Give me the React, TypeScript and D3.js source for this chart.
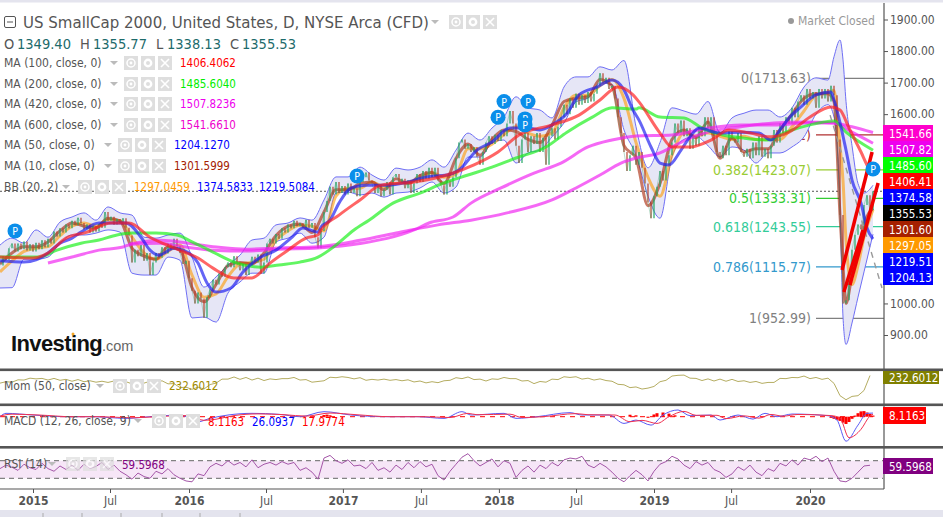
import { useEffect, useRef } from 'react';
import * as d3 from 'd3';

type Pt = [number, number];

// weekly closes, one value per bar
const closes = [
  1120, 1150, 1138, 1175, 1190, 1165, 1190, 1172, 1196, 1168, 1188, 1165, 1192, 1172, 1200, 1178, 1205, 1190, 1228, 1212,
  1238, 1225, 1250, 1238, 1262, 1248, 1272, 1255, 1235, 1250, 1225, 1245, 1228, 1252, 1240, 1290, 1262, 1275, 1250, 1268,
  1255, 1270, 1240, 1215, 1130, 1170, 1150, 1185, 1135, 1160, 1090, 1130, 1160, 1145, 1178, 1158, 1190, 1170, 1205, 1182,
  1160, 1125, 1135, 1080, 1040, 1000, 1035, 1015, 955, 1020, 1045, 1075, 1060, 1095, 1085, 1115, 1130, 1115, 1150, 1130,
  1105, 1125, 1090, 1120, 1148, 1130, 1155, 1095, 1130, 1190, 1205, 1190, 1220, 1205, 1238, 1225, 1250, 1238, 1262, 1245,
  1255, 1240, 1265, 1240, 1255, 1210, 1175, 1230, 1290, 1325, 1370, 1345, 1385, 1350, 1372, 1345, 1380, 1350, 1365, 1340,
  1385, 1400, 1415, 1390, 1380, 1350, 1375, 1340, 1360, 1385, 1345, 1400, 1410, 1385, 1395, 1365, 1390, 1350, 1380, 1410,
  1385, 1420, 1395, 1430, 1400, 1430, 1390, 1375, 1345, 1390, 1370, 1400, 1460, 1510, 1520, 1490, 1505, 1480, 1495, 1465,
  1440, 1480, 1510, 1530, 1505, 1535, 1515, 1550, 1530, 1570, 1610, 1570, 1500, 1445, 1520, 1540, 1480, 1530, 1505, 1540,
  1480, 1525, 1440, 1530, 1555, 1520, 1560, 1590, 1630, 1600, 1650, 1620, 1665, 1630, 1660, 1635, 1670, 1640, 1665, 1690,
  1730, 1700, 1715, 1680, 1690, 1650, 1590, 1540, 1480, 1420, 1470, 1500, 1440, 1480, 1430, 1380, 1320, 1270, 1340, 1370,
  1420, 1390, 1440, 1470, 1510, 1570, 1540, 1580, 1530, 1555, 1490, 1530, 1500, 1560, 1530, 1590, 1555, 1590, 1530, 1480,
  1460, 1500, 1470, 1545, 1520, 1510, 1540, 1480, 1465, 1490, 1460, 1510, 1470, 1530, 1465, 1490, 1460, 1500, 1550, 1510,
  1570, 1540, 1590, 1570, 1620, 1590, 1640, 1660, 1630, 1680, 1650, 1670, 1620, 1680, 1650, 1680, 1640, 1690, 1660, 1520,
  1280, 1000, 1010, 1075, 1170, 1218, 1250, 1235, 1312, 1343, 1296, 1355.53,
];

const bbWeeks = [...d3.range(0, 280, 4), 278, 280, 281, 282, 284, 286, 288, 291];
const bbUpper = [
  1185, 1207, 1191, 1233, 1210, 1258, 1274, 1287, 1264, 1306, 1287, 1280, 1210, 1207, 1217, 1223, 1147, 1052, 1084, 1122,
  1153, 1201, 1207, 1249, 1255, 1271, 1264, 1328, 1401, 1401, 1432, 1407, 1391, 1429, 1423, 1432, 1455, 1432, 1486, 1540,
  1518, 1556, 1591, 1655, 1620, 1613, 1588, 1686, 1718, 1718, 1750, 1740, 1770, 1560, 1430, 1510, 1620, 1610, 1600, 1640,
  1540, 1588, 1603, 1613, 1613, 1591, 1620, 1686, 1715, 1708, 1782, 1835, 1772, 1640, 1500, 1380, 1350, 1374.58,
];
const bbLower = [
  1049, 1050, 1140, 1140, 1147, 1191, 1217, 1217, 1223, 1233, 1226, 1096, 1090, 1090, 1147, 1137, 954, 957, 941, 1033,
  1068, 1096, 1096, 1195, 1207, 1223, 1191, 1210, 1350, 1353, 1344, 1350, 1337, 1350, 1353, 1366, 1385, 1350, 1369, 1464,
  1464, 1508, 1518, 1445, 1477, 1486, 1528, 1572, 1639, 1651, 1699, 1693, 1550, 1470, 1340, 1270, 1465, 1520, 1530, 1500,
  1465, 1496, 1486, 1445, 1477, 1477, 1496, 1528, 1600, 1630, 1591, 1300, 957, 870, 938, 1020, 1100, 1219.51,
];
const bbMiddle = [
  1100, 1135, 1165, 1175, 1180, 1215, 1245, 1255, 1245, 1265, 1262, 1210, 1160, 1140, 1165, 1185, 1090, 1020, 1030, 1085,
  1125, 1130, 1140, 1200, 1230, 1248, 1245, 1230, 1340, 1365, 1365, 1385, 1370, 1380, 1385, 1395, 1415, 1400, 1410, 1490,
  1490, 1505, 1535, 1560, 1540, 1530, 1540, 1620, 1660, 1660, 1690, 1710, 1650, 1510, 1400, 1340, 1470, 1540, 1530, 1540,
  1530, 1520, 1530, 1520, 1520, 1520, 1560, 1610, 1660, 1670, 1675, 1500, 1390, 1200, 1060, 1120, 1210, 1297.05,
];
const ma10 = [
  1125, 1160, 1180, 1180, 1195, 1230, 1255, 1245, 1240, 1270, 1262, 1175, 1150, 1140, 1180, 1170, 1050, 1005, 1060, 1120,
  1130, 1125, 1160, 1215, 1245, 1252, 1225, 1290, 1360, 1360, 1380, 1385, 1360, 1395, 1380, 1405, 1415, 1380, 1460, 1505,
  1470, 1520, 1550, 1545, 1520, 1510, 1565, 1640, 1650, 1655, 1710, 1690, 1500, 1460, 1310, 1380, 1520, 1550, 1525, 1575,
  1460, 1525, 1480, 1490, 1490, 1550, 1600, 1650, 1665, 1665, 1640, 1280, 1120, 1000, 1090, 1160, 1250, 1301.6,
];

// [week, value]
const ma50: Pt[] = [
  [0, 1135], [8, 1131], [12, 1138], [16, 1160], [20, 1191], [24, 1207], [27, 1226], [33, 1255], [37, 1255], [42, 1255],
  [47, 1210], [50, 1169], [53, 1153], [58, 1175], [61, 1169], [66, 1128], [69, 1065], [72, 1036], [77, 1049], [81, 1100],
  [87, 1147], [92, 1169], [97, 1207], [101, 1239], [106, 1226], [107, 1242], [110, 1264], [113, 1318], [117, 1366],
  [122, 1375], [129, 1375], [136, 1385], [142, 1401], [149, 1407], [153, 1423], [159, 1486], [164, 1512], [170, 1556],
  [176, 1556], [180, 1550], [184, 1566], [189, 1603], [193, 1661], [199, 1686], [204, 1708], [208, 1677], [211, 1613],
  [213, 1581], [217, 1496], [220, 1445], [223, 1439], [227, 1486], [230, 1528], [233, 1556], [240, 1540], [247, 1543],
  [253, 1540], [257, 1518], [260, 1550], [263, 1588], [267, 1623], [272, 1661], [277, 1670], [278, 1645], [282, 1486],
  [284, 1391], [287, 1318], [289, 1239], [291, 1204.13],
];
const ma100: Pt[] = [
  [0, 1147], [11, 1144], [16, 1160], [22, 1207], [29, 1226], [37, 1255], [43, 1255], [50, 1210], [58, 1176], [66, 1144],
  [71, 1112], [78, 1081], [84, 1081], [90, 1128], [96, 1169], [102, 1207], [106, 1217], [107, 1233], [113, 1280],
  [120, 1328], [127, 1375], [138, 1385], [149, 1407], [158, 1439], [166, 1480], [173, 1534], [184, 1566], [193, 1597],
  [200, 1645], [206, 1686], [211, 1661], [213, 1639], [220, 1540], [224, 1496], [230, 1496], [237, 1518], [243, 1550],
  [250, 1540], [257, 1528], [263, 1543], [270, 1591], [277, 1623], [280, 1613], [283, 1556], [285, 1518], [287, 1480],
  [289, 1439], [291, 1406.41],
];
const ma200: Pt[] = [
  [0, 1147], [7, 1147], [13, 1147], [19, 1169], [27, 1191], [33, 1201], [39, 1217], [44, 1223], [52, 1223], [59, 1217],
  [64, 1195], [71, 1163], [78, 1131], [87, 1115], [93, 1122], [100, 1131], [106, 1147], [112, 1185], [118, 1233],
  [123, 1264], [131, 1318], [140, 1350], [148, 1382], [156, 1407], [164, 1432], [172, 1461], [182, 1496], [189, 1543],
  [197, 1588], [204, 1620], [212, 1616], [213, 1620], [220, 1591], [228, 1588], [234, 1556], [241, 1534], [248, 1524],
  [256, 1518], [262, 1543], [270, 1566], [278, 1578], [282, 1543], [291, 1485.6],
];
const ma420: Pt[] = [
  [16, 1128], [24, 1147], [33, 1169], [41, 1179], [44, 1188], [53, 1191], [62, 1179], [71, 1169], [82, 1166], [93, 1172],
  [106, 1176], [120, 1190], [138, 1233], [143, 1255], [151, 1274], [157, 1318], [167, 1366], [178, 1413], [187, 1445],
  [196, 1496], [204, 1518], [212, 1531], [224, 1534], [236, 1556], [247, 1566], [258, 1566], [269, 1572], [278, 1572],
  [284, 1543], [291, 1507.82],
];
const ma600: Pt[] = [
  [43, 1188], [53, 1200], [71, 1180], [82, 1172], [93, 1176], [106, 1180], [120, 1200], [133, 1225], [146, 1249],
  [157, 1264], [169, 1287], [184, 1328], [192, 1366], [200, 1407], [207, 1445], [212, 1461], [220, 1477], [224, 1496],
  [230, 1524], [236, 1543], [247, 1560], [258, 1572], [269, 1575], [278, 1572], [284, 1560], [291, 1541.66],
];

const trendLines: [Pt, Pt][] = [
  [[280.7, 1106], [290.7, 1480]],
  [[281.3, 1036], [287.7, 1233]],
  [[283.3, 1058], [292.7, 1382]],
];
const projection: Pt[] = [[276.7, 1597], [294, 1049]];
const publishMarks: Pt[] = [
  [5, 1230], [119, 1404], [168, 1640], [176, 1640], [166, 1590], [175, 1585], [175, 1566], [291, 1426],
];

const fibLevels = [
  { label: '0(1713.63)', value: 1713.63, color: '#808080' },
  { label: '0.236(1534.12)', value: 1534.12, color: '#b03030' },
  { label: '0.382(1423.07)', value: 1423.07, color: '#99cc33' },
  { label: '0.5(1333.31)', value: 1333.31, color: '#33cc33' },
  { label: '0.618(1243.55)', value: 1243.55, color: '#33cc99' },
  { label: '0.786(1115.77)', value: 1115.77, color: '#3399cc' },
  { label: '1(952.99)', value: 952.99, color: '#808080' },
];

const priceTicks = [900, 1000, 1600, 1700, 1800, 1900];
const timeTicks = [11, 36.67, 63, 88.67, 114.3, 140.3, 166.3, 192, 218, 243.7, 270];
const timeLabels = ['2015', 'Jul', '2016', 'Jul', '2017', 'Jul', '2018', 'Jul', '2019', 'Jul', '2020'];

const priceTags = [
  { text: '1541.66', color: '#ff00cc' },
  { text: '1507.82', color: '#ee00ee' },
  { text: '1485.60', color: '#00ff00' },
  { text: '1406.41', color: '#ff0000' },
  { text: '1374.58', color: '#0000ff' },
  { text: '1355.53', color: '#000000' },
  { text: '1301.60', color: '#a52000' },
  { text: '1297.05', color: '#ff9900' },
  { text: '1219.51', color: '#0000ff' },
  { text: '1204.13', color: '#0000ff' },
];

// every second week
const momentum = [
  -90, -30, -50, 50, 40, 120, 90, 110, 40, 110, 30, 70, -10, 60, -30, 10, -50, -10, -60, 0, -80, -30, -120, -50, -90, -10,
  -70, 10, -120, -110, -280, -260, -350, -260, -340, -150, -90, 80, 80, 170, 70, 150, 40, 120, 20, 90, 60, 100, 100, 150,
  40, 60, -50, -20, 10, 160, 140, 180, 150, 90, 140, 30, 70, 40, 80, 30, 60, 10, 50, -40, 0, -80, -30, -70, 10, 30,
  140, 100, 170, 60, 80, 0, 90, 70, 150, 100, 100, 0, 20, -110, -20, -50, 80, 60, 180, 150, 180, 80, 120, 40, 90, 20,
  -10, -140, -160, -280, -250, -340, -300, -230, -30, 30, 210, 240, 250, 120, 110, 20, 90, 0, 80, -10, 70, -20, 10, -60,
  -20, -100, -60, -60, 110, 100, 150, 140, 210, 100, 150, 70, 120, -100, -620, -790, -650, -620, -400, 232.6,
];
const rsi = [
  52, 60, 55, 48, 62, 54, 50, 64, 52, 46, 58, 50, 60, 48, 62, 52, 57, 66, 50, 60, 46, 38, 28, 42, 34, 30, 46, 40, 52, 38,
  30, 24, 22, 40, 36, 56, 64, 58, 70, 60, 66, 56, 72, 54, 62, 66, 60, 68, 62, 66, 48, 54, 44, 28, 76, 82, 70, 64, 72, 58,
  60, 52, 66, 48, 54, 44, 60, 50, 66, 54, 68, 56, 62, 36, 26, 46, 62, 78, 86, 70, 58, 66, 74, 56, 70, 64, 32, 48, 58, 44,
  60, 52, 66, 58, 72, 76, 74, 80, 60, 54, 64, 56, 44, 30, 22, 36, 48, 38, 24, 46, 62, 68, 80, 74, 60, 52, 68, 60, 66, 50,
  44, 32, 40, 56, 48, 60, 44, 36, 52, 46, 64, 58, 72, 60, 76, 72, 80, 68, 76, 46, 24, 22, 30, 44, 58, 59.6,
];
const macdLine: Pt[] = [
  [0, 0], [2, 24], [11, 12], [22, 0], [31, 0], [42, -12], [50, 0], [60, 12], [66, -36], [70, -12], [76, 12], [84, 24],
  [93, 17], [100, 0], [108, 36], [117, 12], [128, 0], [139, 0], [148, -12], [154, 36], [157, 12], [168, 24], [172, -12],
  [179, 0], [190, 29], [194, 12], [203, 12], [208, -48], [212, -24], [217, -60], [221, 12], [226, 48], [230, 7],
  [237, 12], [240, -24], [246, 12], [251, -17], [255, 24], [259, 0], [264, 19], [276, 7], [279, -24], [282, -175],
  [286, -60], [289, 24], [291, 26.09],
];
const macdSignal: Pt[] = [
  [0, 5], [4, 18], [13, 12], [24, 0], [33, 0], [44, -8], [52, 0], [62, 8], [68, -26], [72, -18], [78, 8], [86, 20],
  [95, 14], [102, 4], [110, 26], [119, 14], [130, 0], [141, 0], [150, -6], [156, 24], [159, 14], [170, 18], [174, -6],
  [181, 0], [192, 22], [196, 14], [205, 12], [210, -36], [214, -26], [219, -48], [223, 0], [228, 38], [232, 10],
  [239, 10], [242, -14], [248, 6], [253, -10], [257, 16], [261, 4], [266, 16], [277, 8], [280, -10], [283, -150],
  [287, -90], [290, 5], [291, 17.98],
];
const macdHist: Pt[] = [
  [108, 12], [109, 15], [110, 10], [210, 14], [212, 10], [216, -8], [218, 16], [219, 25], [221, 30], [223, 22], [225, 10],
  [277, -8], [278, -15], [279, -22], [280, -30], [281, -42], [282, -52], [283, -38], [284, -15], [285, 8], [286, 25],
  [287, 38], [288, 40], [289, 30], [290, 20], [291, 8],
];

const legendRows = [
  { name: 'MA (100, close, 0)', value: '1406.4062', color: '#ff0000', y: 63, icons: 124 },
  { name: 'MA (200, close, 0)', value: '1485.6040', color: '#00ee00', y: 84, icons: 124 },
  { name: 'MA (420, close, 0)', value: '1507.8236', color: '#ee00ee', y: 104, icons: 124 },
  { name: 'MA (600, close, 0)', value: '1541.6610', color: '#ee00cc', y: 125, icons: 124 },
  { name: 'MA (50, close, 0)', value: '1204.1270', color: '#0000ff', y: 145, icons: 118 },
  { name: 'MA (10, close, 0)', value: '1301.5999', color: '#a52000', y: 166, icons: 118 },
];

const TEXT = '#555555';
const FONT = '"DejaVu Sans Condensed", "DejaVu Sans", sans-serif';

export default function App() {
  const ref = useRef<SVGSVGElement>(null);

  useEffect(() => {
    if (!ref.current) return;
    const svg = d3.select(ref.current);
    svg.selectAll('*').remove();
    svg.attr('font-family', FONT);

    const x = d3.scaleLinear().domain([0, 292]).range([0, 876]);
    const y = d3.scaleLinear().domain([900, 1900]).range([335, 19.5]);
    const yMom = d3.scaleLinear().domain([-760, 232.6]).range([399, 375.5]);
    const yMacd = d3.scaleLinear().domain([-175, 0]).range([441.2, 416.7]);
    const yRsi = d3.scaleLinear().domain([30, 70]).range([478.3, 460.7]);

    // frame bands
    svg.append('rect').attr('width', 943).attr('height', 2.5).attr('fill', '#e4e4ee');
    svg.append('rect').attr('y', 510).attr('width', 943).attr('height', 7).attr('fill', '#e4e4ee');
    [43, 82, 121, 162, 200, 240].forEach((px) => {
      svg.append('line').attr('x1', px).attr('x2', px).attr('y1', 513).attr('y2', 517).attr('stroke', '#aaa');
    });

    // RSI band goes under everything in its pane
    svg.append('rect').attr('x', 0).attr('y', yRsi(70)).attr('width', 883).attr('height', yRsi(30) - yRsi(70)).attr('fill', '#f6e6f7');
    [70, 30].forEach((v) => {
      svg.append('line').attr('x1', 0).attr('x2', 883).attr('y1', yRsi(v)).attr('y2', yRsi(v))
        .attr('stroke', '#666').attr('stroke-dasharray', '5,4');
    });

    const main = svg.append('g');

    // fibonacci levels
    fibLevels.forEach((f) => {
      main.append('line').attr('x1', x(272)).attr('x2', 884).attr('y1', y(f.value)).attr('y2', y(f.value))
        .attr('stroke', f.color).attr('stroke-width', 1.2);
      main.append('text').attr('x', 811).attr('y', y(f.value) + 5).attr('text-anchor', 'end')
        .attr('font-size', 14).attr('fill', f.color).text(f.label);
    });

    // last close
    main.append('line').attr('x1', 0).attr('x2', 884).attr('y1', y(1355.53)).attr('y2', y(1355.53))
      .attr('stroke', '#555').attr('stroke-dasharray', '2,2');

    // bollinger bands
    const area = d3.area<number>()
      .x((_, i) => x(bbWeeks[i]))
      .y0((_, i) => y(bbLower[i]))
      .y1((d) => y(d))
      .curve(d3.curveMonotoneX);
    main.append('path').attr('d', area(bbUpper)).attr('fill', '#e6e6f6');
    const bbLine = d3.line<number>().x((_, i) => x(bbWeeks[i])).y((d) => y(d)).curve(d3.curveMonotoneX);
    [bbUpper, bbLower].forEach((s) => {
      main.append('path').attr('d', bbLine(s)).attr('fill', 'none').attr('stroke', '#6f6ff5').attr('stroke-width', 1);
    });

    // band middle and MA10 sit under the candles
    main.append('path').attr('d', bbLine(bbMiddle)).attr('fill', 'none').attr('stroke', '#ff9900').attr('stroke-width', 3).attr('opacity', 0.6);
    main.append('path').attr('d', bbLine(ma10)).attr('fill', 'none').attr('stroke', '#a52000').attr('stroke-width', 3).attr('opacity', 0.6);

    // candles
    closes.forEach((c, i) => {
      const prev = i === 0 ? c : closes[i - 1];
      main.append('line').attr('x1', x(i)).attr('x2', x(i)).attr('y1', y(prev)).attr('y2', y(c))
        .attr('stroke', c >= prev ? '#22a765' : '#b5442c').attr('stroke-width', 1.2);
    });
    main.append('path')
      .attr('d', d3.line<number>().x((_, i) => x(i)).y((d) => y(d))(closes))
      .attr('fill', 'none').attr('stroke', '#3a9a68').attr('stroke-width', 0.6).attr('opacity', 0.6);

    // moving averages
    const ptLine = d3.line<Pt>().x((d) => x(d[0])).y((d) => y(d[1])).curve(d3.curveMonotoneX);
    const maStyles: [Pt[], string][] = [
      [ma600, '#f020f0'],
      [ma420, '#f020f0'],
      [ma200, '#18f018'],
      [ma50, '#1c1cf0'],
      [ma100, '#ff1c1c'],
    ];
    maStyles.forEach(([s, color]) => {
      main.append('path').attr('d', ptLine(s)).attr('fill', 'none').attr('stroke', color)
        .attr('stroke-width', 3).attr('opacity', 0.68);
    });

    // drawn tools
    main.append('path')
      .attr('d', d3.line<Pt>().x((d) => x(d[0])).y((d) => y(d[1]))(projection))
      .attr('fill', 'none').attr('stroke', '#999').attr('stroke-width', 1.4).attr('stroke-dasharray', '6,5');
    trendLines.forEach((t) => {
      main.append('line').attr('x1', x(t[0][0])).attr('y1', y(t[0][1])).attr('x2', x(t[1][0])).attr('y2', y(t[1][1]))
        .attr('stroke', '#f00000').attr('stroke-width', 3.5);
    });

    // P markers
    publishMarks.forEach((m) => {
      const g = main.append('g').attr('transform', `translate(${x(m[0])},${y(m[1])})`);
      g.append('circle').attr('r', 7.5).attr('fill', '#0a8eea');
      g.append('text').attr('text-anchor', 'middle').attr('y', 4).attr('font-size', 10.5).attr('fill', '#fff').text('P');
    });

    // right axes
    const yAxis = d3.axisRight(y).tickValues(priceTicks).tickFormat((d) => d3.format('.2f')(d as number)).tickSize(4).tickPadding(2);
    const yAxisG = svg.append('g').attr('transform', 'translate(884,0)').call(yAxis);
    yAxisG.select('.domain').remove();
    yAxisG.selectAll('line').attr('stroke', '#555');
    yAxisG.selectAll('text').attr('fill', TEXT).attr('font-family', FONT).attr('font-size', 12);
    svg.append('line').attr('x1', 884).attr('x2', 884).attr('y1', 3).attr('y2', 489).attr('stroke', '#555').attr('stroke-width', 1.2);

    priceTags.forEach((t, i) => {
      const top = 125 + i * 16;
      svg.append('rect').attr('x', 883).attr('y', top).attr('width', 50).attr('height', 16).attr('fill', t.color);
      svg.append('text').attr('x', 889).attr('y', top + 12.5).attr('font-size', 11.5).attr('fill', '#fff').text(t.text);
    });

    // momentum
    svg.append('path')
      .attr('d', d3.line<number>().x((_, i) => x(i * 2)).y((d) => yMom(d))(momentum))
      .attr('fill', 'none').attr('stroke', '#b5ad62').attr('stroke-width', 1);

    // macd
    svg.append('line').attr('x1', 0).attr('x2', x(291)).attr('y1', yMacd(0)).attr('y2', yMacd(0))
      .attr('stroke', '#f00').attr('stroke-dasharray', '5,5');
    macdHist.forEach((h) => {
      svg.append('rect').attr('x', x(h[0]) - 1.5).attr('width', 3)
        .attr('y', Math.min(yMacd(0), yMacd(h[1]))).attr('height', Math.abs(yMacd(h[1]) - yMacd(0)))
        .attr('fill', '#f00');
    });
    const macdPath = d3.line<Pt>().x((d) => x(d[0])).y((d) => yMacd(d[1])).curve(d3.curveMonotoneX);
    svg.append('path').attr('d', macdPath(macdLine)).attr('fill', 'none').attr('stroke', '#5a5af5').attr('stroke-width', 1);
    svg.append('path').attr('d', macdPath(macdSignal)).attr('fill', 'none').attr('stroke', '#f03050').attr('stroke-width', 1);

    // rsi
    svg.append('path')
      .attr('d', d3.line<number>().x((_, i) => x(i * 2)).y((d) => yRsi(d))(rsi))
      .attr('fill', 'none').attr('stroke', '#a456a8').attr('stroke-width', 1);

    // pane separators
    [368.5, 403.5, 446].forEach((top) => {
      svg.append('rect').attr('y', top).attr('width', 943).attr('height', 2.6).attr('fill', '#555');
    });

    // bottom axis
    const xAxis = d3.axisBottom(x).tickValues(timeTicks)
      .tickFormat((_, i) => timeLabels[i]).tickSize(4).tickPadding(3);
    const xAxisG = svg.append('g').attr('transform', 'translate(0,489)').call(xAxis);
    xAxisG.select('.domain').remove();
    xAxisG.selectAll('line').attr('stroke', '#555');
    xAxisG.selectAll('text').attr('fill', TEXT).attr('font-family', FONT).attr('font-size', 12)
      .attr('font-weight', (_, i) => (timeLabels[i] === 'Jul' ? 'normal' : 'bold'));
    svg.append('line').attr('x1', 0).attr('x2', 884).attr('y1', 489).attr('y2', 489).attr('stroke', '#555').attr('stroke-width', 1.2);

    // pane value tags
    const paneTags = [
      { text: '232.6012', color: '#808000', top: 371, h: 13, w: 56 },
      { text: '8.1163', color: '#ff0000', top: 407, h: 17, w: 43 },
      { text: '59.5968', color: '#800080', top: 458, h: 16, w: 50 },
    ];
    paneTags.forEach((t) => {
      svg.append('rect').attr('x', 883).attr('y', t.top).attr('width', t.w).attr('height', t.h).attr('fill', t.color);
      svg.append('text').attr('x', 889).attr('y', t.top + t.h / 2 + 4.5).attr('font-size', 11.5).attr('fill', '#fff').text(t.text);
    });

    // legend helpers
    const caret = (px: number, py: number) => {
      svg.append('path').attr('d', d3.line()([[px, py - 2], [px + 8, py - 2], [px + 4, py + 2]]))
        .attr('fill', '#bbb');
    };
    const iconSet = (px: number, py: number, faint = 1) => {
      [0, 17, 34].forEach((dx, k) => {
        const g = svg.append('g').attr('transform', `translate(${px + dx},${py - 7})`).attr('opacity', faint);
        g.append('rect').attr('width', 14).attr('height', 14).attr('fill', '#dedede');
        if (k === 0) {
          g.append('circle').attr('cx', 7).attr('cy', 7).attr('r', 4).attr('fill', 'none').attr('stroke', '#fff').attr('stroke-width', 1.5);
          g.append('circle').attr('cx', 7).attr('cy', 7).attr('r', 1.4).attr('fill', '#fff');
        } else if (k === 1) {
          g.append('circle').attr('cx', 7).attr('cy', 7).attr('r', 3.2).attr('fill', 'none').attr('stroke', '#fff').attr('stroke-width', 2.4);
        } else {
          g.append('path').attr('d', 'M3 3L11 11M11 3L3 11').attr('stroke', '#fff').attr('stroke-width', 1.6);
        }
      });
    };
    const label = (txt: string, px: number, py: number, size: number, color: string) => {
      svg.append('text').attr('x', px).attr('y', py).attr('font-size', size).attr('fill', color).text(txt);
    };

    // title block
    svg.append('rect').attr('x', 4.5).attr('y', 16.5).attr('width', 11).attr('height', 11).attr('rx', 1.5)
      .attr('fill', 'none').attr('stroke', '#555');
    svg.append('line').attr('x1', 7).attr('x2', 13).attr('y1', 22).attr('y2', 22).attr('stroke', '#555');
    label('US SmallCap 2000, United States, D, NYSE Arca (CFD)', 23, 28, 16.7, TEXT);
    caret(431, 22);
    iconSet(449, 22);
    [
      ['O', 4], ['H', 80], ['L', 156], ['C', 230],
    ].forEach(([t, px]) => label(t as string, px as number, 49, 14.5, TEXT));
    [
      ['1349.40', 17], ['1355.77', 93], ['1338.13', 167], ['1355.53', 242],
    ].forEach(([t, px]) => label(t as string, px as number, 49, 14.5, '#1d6b6b'));

    label('Market Closed', 798, 25, 12, '#999');
    svg.append('circle').attr('cx', 791).attr('cy', 21).attr('r', 3).attr('fill', '#999');

    legendRows.forEach((r) => {
      label(r.name, 4, r.y + 4, 12, TEXT);
      caret(r.icons - 14, r.y);
      iconSet(r.icons, r.y);
      label(r.value, r.icons + 56, r.y + 4, 11.5, r.color);
    });

    label('BB (20, 2)', 4, 191, 12, TEXT);
    caret(62, 187);
    iconSet(78, 187);
    label('1297.0459', 134, 191, 11.5, '#ff9900');
    label('1374.5833', 197, 191, 11.5, '#0000ff');
    label('1219.5084', 259, 191, 11.5, '#0000ff');

    label('Mom (50, close)', 4, 390, 12, TEXT);
    caret(96, 386);
    iconSet(113, 386);
    label('232.6012', 169, 390, 11.5, '#a08a00');

    label('MACD (12, 26, close, 9)', 4, 425, 12, TEXT);
    caret(134, 421);
    iconSet(152, 421);
    label('8.1163', 208, 426, 11.5, '#ff0000');
    label('26.0937', 252, 426, 11.5, '#0000ff');
    label('17.9774', 302, 426, 11.5, '#ff0000');

    label('RSI (14)', 4, 468, 12, TEXT);
    caret(48, 464);
    iconSet(66, 464, 0.7);
    label('59.5968', 122, 469, 11.5, '#800080');

    // logo
    svg.append('text').attr('x', 11).attr('y', 351).attr('font-family', '"Liberation Sans", Arial, sans-serif')
      .attr('font-weight', 'bold').attr('font-size', 22).attr('letter-spacing', -0.6).attr('fill', '#111').text('Investing');
    svg.append('text').attr('x', 102).attr('y', 351).attr('font-family', '"Liberation Sans", Arial, sans-serif')
      .attr('font-size', 14.5).attr('fill', '#666').text('.com');
    svg.append('circle').attr('cx', 73).attr('cy', 334).attr('r', 1.5).attr('fill', '#f5a623');
  }, []);

  return <svg ref={ref} width={943} height={517} style={{ position: 'absolute', left: 0, top: 0, background: '#fff' }} />;
}
